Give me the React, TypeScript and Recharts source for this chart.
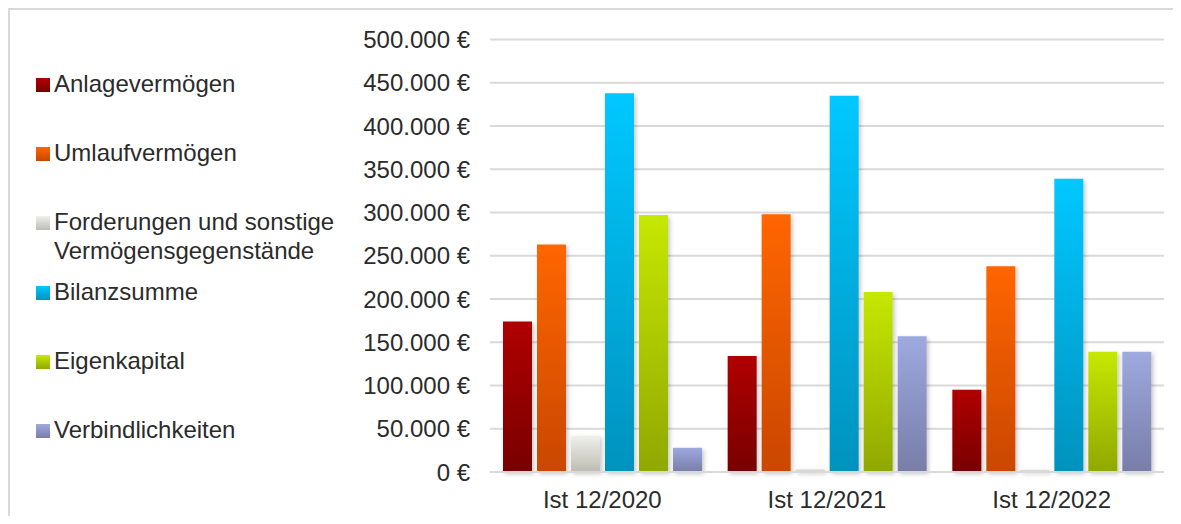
import React from 'react';
import { BarChart, Bar, XAxis, YAxis, CartesianGrid, Legend } from 'recharts';

const categories = ['Ist 12/2020', 'Ist 12/2021', 'Ist 12/2022'];
const anlagevermoegen = [174000, 134000, 95000];
const umlaufvermoegen = [263000, 298000, 238000];
const forderungen = [42000, 3500, 3000];
const bilanzsumme = [438000, 435000, 339000];
const eigenkapital = [297000, 208000, 139000];
const verbindlichkeiten = [28000, 157000, 139000];
const yTicks = [0, 50000, 100000, 150000, 200000, 250000, 300000, 350000, 400000, 450000, 500000];

const seriesDefs = [
  { key: 'anlage', name: 'Anlagevermögen', values: anlagevermoegen, top: '#B00000', bottom: '#780000' },
  { key: 'umlauf', name: 'Umlaufvermögen', values: umlaufvermoegen, top: '#FF6600', bottom: '#C94700' },
  { key: 'ford', name: 'Forderungen und sonstige Vermögensgegenstände', values: forderungen, top: '#F0F0EC', bottom: '#BCBCB3' },
  { key: 'bilanz', name: 'Bilanzsumme', values: bilanzsumme, top: '#00C8FF', bottom: '#0092BE' },
  { key: 'eigen', name: 'Eigenkapital', values: eigenkapital, top: '#C6E800', bottom: '#90A800' },
  { key: 'verb', name: 'Verbindlichkeiten', values: verbindlichkeiten, top: '#9EA9DF', bottom: '#787DA8' },
];

const data = categories.map((c, i) => {
  const row: Record<string, string | number> = { category: c };
  seriesDefs.forEach((s) => {
    row[s.key] = s.values[i];
  });
  return row;
});

const FONT = '"Liberation Sans", Arial, sans-serif';
const TEXT_COLOR = '#2b2b2b';

function formatEuro(v: number): string {
  const s = Math.round(v).toString();
  const withDots = s.replace(/\B(?=(\d{3})+(?!\d))/g, '.');
  return `${withDots} €`;
}

const CustomLegend = () => (
  <div style={{ fontFamily: FONT, fontSize: 24, color: TEXT_COLOR }}>
    {seriesDefs.map((s) => (
      <div key={s.key} style={{ height: 69.4, display: 'flex', alignItems: 'flex-start' }}>
        <div
          style={{
            width: 14,
            height: 14,
            marginTop: 9,
            marginRight: 4,
            flex: '0 0 14px',
            background: `linear-gradient(to bottom, ${s.top}, ${s.bottom})`,
          }}
        />
        <div style={{ lineHeight: '29px', width: 300 }}>{s.name}</div>
      </div>
    ))}
  </div>
);

export default function App() {
  return (
    <div
      style={{
        position: 'relative',
        width: 1173,
        height: 508,
        boxSizing: 'border-box',
        borderTop: '2px solid #d9d9d9',
        borderLeft: '2px solid #d9d9d9',
        background: '#fff',
        overflow: 'hidden',
      }}
    >
      <BarChart
        width={1171}
        height={506}
        data={data}
        margin={{ top: 29.5, right: 17, bottom: 14, left: 0 }}
        barCategoryGap={13}
        barGap={5}
      >
        <defs>
          {seriesDefs.map((s) => (
            <linearGradient key={s.key} id={`grad-${s.key}`} x1="0" y1="0" x2="0" y2="1">
              <stop offset="0%" stopColor={s.top} />
              <stop offset="100%" stopColor={s.bottom} />
            </linearGradient>
          ))}
          <filter id="barShadow" filterUnits="userSpaceOnUse" x="0" y="0" width="1171" height="506">
            <feDropShadow dx="2" dy="2" stdDeviation="2" floodColor="#000" floodOpacity="0.22" />
          </filter>
        </defs>
        <CartesianGrid vertical={false} stroke="#d9d9d9" strokeWidth={2} />
        <XAxis
          dataKey="category"
          axisLine={{ stroke: '#d9d9d9', strokeWidth: 2 }}
          tickLine={false}
          tickSize={0}
          tickMargin={19}
          height={30}
          tick={{ fill: TEXT_COLOR, fontSize: 24, fontFamily: FONT }}
        />
        <YAxis
          width={150}
          domain={[0, 500000]}
          ticks={yTicks}
          interval={0}
          axisLine={false}
          tickLine={false}
          tickSize={0}
          tickMargin={20}
          tickFormatter={formatEuro}
          tick={{ fill: TEXT_COLOR, fontSize: 24, fontFamily: FONT }}
        />
        <Legend
          layout="vertical"
          align="left"
          verticalAlign="top"
          content={<CustomLegend />}
          wrapperStyle={{ left: 26, top: 58.5, width: 330 }}
        />
        {seriesDefs.map((s) => (
          <Bar
            key={s.key}
            dataKey={s.key}
            name={s.name}
            fill={`url(#grad-${s.key})`}
            filter="url(#barShadow)"
            isAnimationActive={false}
          />
        ))}
      </BarChart>
    </div>
  );
}
